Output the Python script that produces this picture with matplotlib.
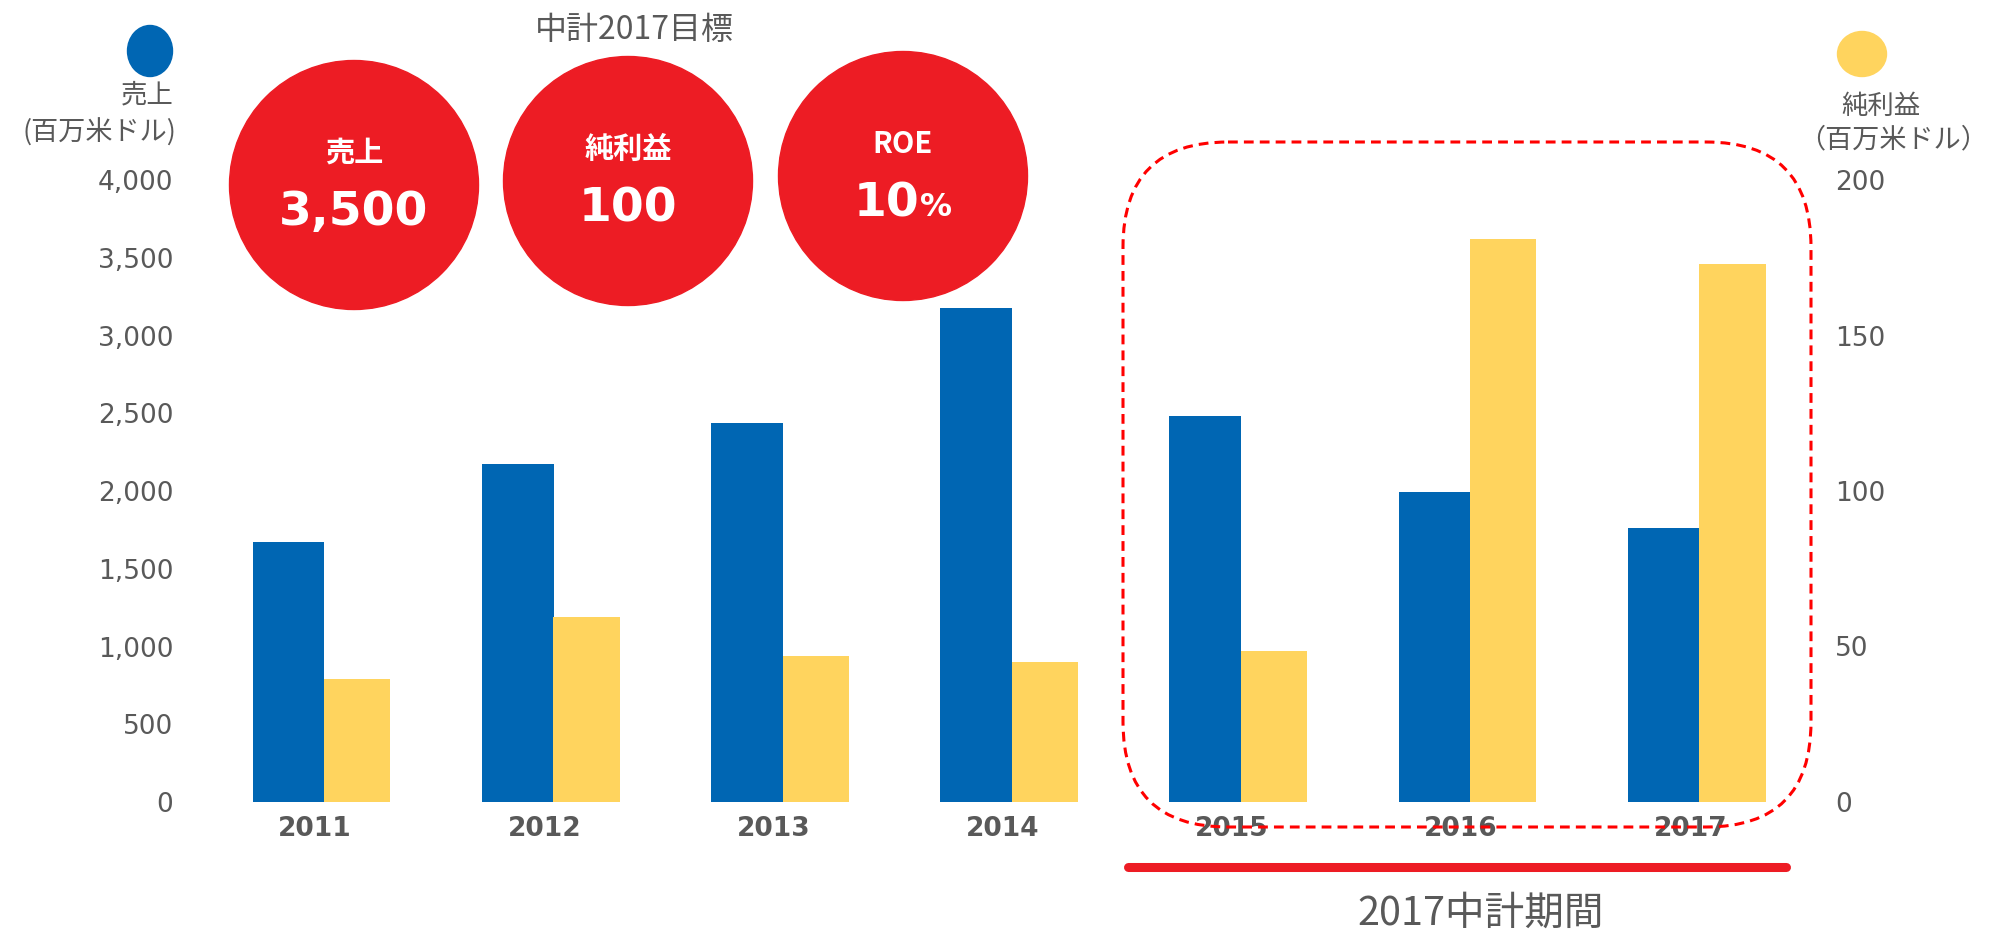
import matplotlib.pyplot as plt
from matplotlib.patches import Ellipse, FancyBboxPatch
import numpy as np

years = ['2011', '2012', '2013', '2014', '2015', '2016', '2017']
sales = [1675, 2176, 2438, 3177, 2485, 1995, 1765]        # 売上 (百万米ドル)
profit = [39.5, 59.5, 47, 45, 48.5, 181, 173]            # 純利益 (百万米ドル)
sales_ticks = [0, 500, 1000, 1500, 2000, 2500, 3000, 3500, 4000]
profit_ticks = [0, 50, 100, 150, 200]

targets = [('売上', '3,500', ''), ('純利益', '100', ''), ('ROE', '10', '%')]

BLUE = '#0066B3'
YELLOW = '#FFD45E'
RED = '#ED1C24'
GRAY = '#595959'
CJK = ['Noto Sans CJK JP', 'DejaVu Sans']

W, H = 1993, 931
fig = plt.figure(figsize=(W / 100, H / 100), dpi=100)

# main axes placed in pixel terms
L, R, B, T = 190, 1820, 802, 180
x0, step = 324.3, 229.2
ax = fig.add_axes([L / W, 1 - B / H, (R - L) / W, (B - T) / H])
ax2 = ax.twinx()

x = np.arange(len(years))
ax.bar(x, sales, width=-0.3125, align='edge', color=BLUE)
ax2.bar(x, profit, width=0.288, align='edge', color=YELLOW)

ax.set_xlim((L - x0) / step, (R - x0) / step)
ax.set_ylim(0, 4000)
ax2.set_ylim(0, 200)

ax.set_yticks(sales_ticks)
ax.set_yticklabels([f'{v:,}' for v in sales_ticks])
ax2.set_yticks(profit_ticks)
ax2.set_yticklabels([str(v) for v in profit_ticks])
ax.set_xticks(x - 0.04)
ax.set_xticklabels(years, fontweight='bold')

for a in (ax, ax2):
    for s in a.spines.values():
        s.set_visible(False)
    a.tick_params(length=0, labelsize=19, labelcolor=GRAY)
ax.tick_params(axis='y', pad=12)
ax2.tick_params(axis='y', pad=11)
ax.tick_params(axis='x', pad=10)

# overlay in pixel coordinates
ov = fig.add_axes([0, 0, 1, 1], zorder=10)
ov.set_xlim(0, W)
ov.set_ylim(H, 0)
ov.axis('off')
ov.patch.set_alpha(0)

# legend markers and axis titles
ov.add_patch(Ellipse((150, 51), 45, 51, color=BLUE))
ov.add_patch(Ellipse((1862, 54), 49, 45, color=YELLOW))
ov.text(174, 95, '売上', ha='right', va='center', fontsize=19, color=GRAY, family=CJK)
ov.text(176, 133, '(百万米ドル)', ha='right', va='center', fontsize=19.5, color=GRAY, family=CJK)
ov.text(1841, 106, '純利益', ha='left', va='center', fontsize=19, color=GRAY, family=CJK)
ov.text(1988, 140, '（百万米ドル）', ha='right', va='center', fontsize=19.5, color=GRAY, family=CJK)

# target circles
ov.text(634, 30, '中計2017目標', ha='center', va='center', fontsize=23, color=GRAY, family=CJK)
centers = [(354, 185), (628, 181), (903, 176)]
for (cx, cy), (lab, num, unit) in zip(centers, targets):
    ov.add_patch(Ellipse((cx, cy), 249, 249, color=RED))
    ov.text(cx, cy - 32, lab, ha='center', va='center', fontsize=21,
            fontweight='bold', color='white', family=CJK)
    if unit:
        ov.text(cx + 16, cy + 28, num, ha='right', va='center', fontsize=34,
                fontweight='bold', color='white')
        ov.text(cx + 17, cy + 32, unit, ha='left', va='center', fontsize=23,
                fontweight='bold', color='white')
    else:
        ov.text(cx, cy + 28, num, ha='center', va='center', fontsize=34,
                fontweight='bold', color='white')

# 2017 plan period
ov.add_patch(FancyBboxPatch((1123, 142), 1811 - 1123, 827 - 142,
                            boxstyle='round,pad=0,rounding_size=105',
                            fill=False, ec='#FF0000', lw=2.2, ls=(0, (3.2, 2.0))))
ov.plot([1128, 1786], [867, 867], color=RED, lw=6.5, solid_capstyle='round')
ov.text(1481, 914, '2017中計期間', ha='center', va='center', fontsize=28.5, color=GRAY, family=CJK)

fig.savefig('out.png', dpi=100)
